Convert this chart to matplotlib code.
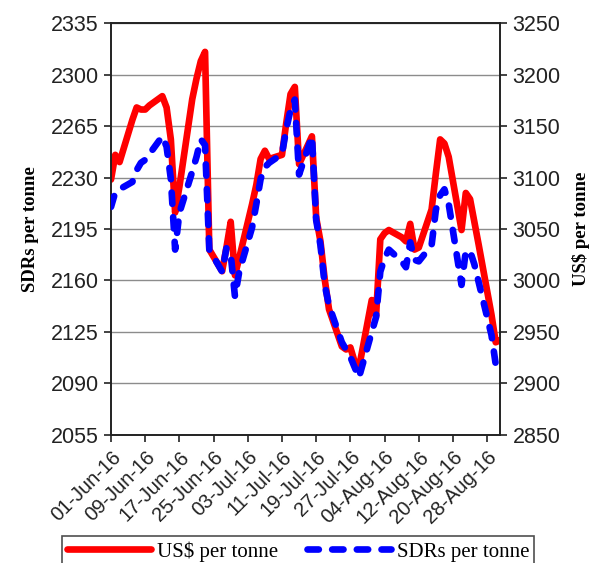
import numpy as np
import pandas as pd
import matplotlib
matplotlib.use("Agg")
import matplotlib.pyplot as plt
import matplotlib.dates as mdates

# trading days 01-Jun-16 .. 31-Aug-16
dates = pd.bdate_range("2016-06-01", "2016-08-31")

# US$ per tonne (right axis)
usd = [3098, 3122, 3115, 3156, 3168, 3166, 3166, 3170, 3179, 3168,
       3137, 3066, 3091, 3176, 3196, 3213, 3222, 3030, 3009, 3032,
       3057, 3005, 3022, 3074, 3093, 3118, 3126, 3118, 3122, 3153,
       3181, 3188, 3113, 3140, 3061, 3038, 3001, 2972, 2936, 2933,
       2935, 2921, 2915, 2981, 2965, 3040, 3046, 3049, 3042, 3038,
       3055, 3030, 3032, 3069, 3104, 3137, 3133, 3120, 3049, 3085,
       3079, 3057, 3035, 2967, 2940, 2942]

# SDRs per tonne (left axis)
sdr = [2210, 2220, 2222, 2227, 2235, 2240, 2242, 2246, 2258, 2251,
       2229, 2181, 2206, 2234, 2244, 2256, 2252, 2181, 2166, 2182,
       2178, 2149, 2166, 2196, 2212, 2229, 2237, 2240, 2246, 2263,
       2276, 2283, 2232, 2258, 2201, 2184, 2157, 2143, 2118, 2113,
       2108, 2101, 2094, 2125, 2135, 2166, 2175, 2181, 2173, 2169,
       2186, 2174, 2173, 2184, 2208, 2218, 2222, 2212, 2157, 2180,
       2180, 2171, 2159, 2123, 2103, 2108]

left_ticks = np.arange(2055, 2336, 35)
right_ticks = np.arange(2850, 3251, 50)

LW = 4.8
DASH = (1.7, 2.0)

fig = plt.figure(figsize=(6.15, 5.63), dpi=100)
ax = fig.add_axes([0.1805, 0.2274, 0.6325, 0.7317])
ax2 = ax.twinx()

ax.plot(dates, sdr, color="#0000FF", lw=LW, dashes=DASH,
        dash_capstyle="round", zorder=3)
ax2.plot(dates, usd, color="#FF0000", lw=LW, solid_capstyle="round",
         solid_joinstyle="round", zorder=2)
# blue on top, yellow background behind both
ax2.set_zorder(0)
ax.set_zorder(1)
ax.patch.set_visible(False)
ax2.patch.set_facecolor("#FFFFCC")

ax.set_ylim(2055, 2335)
ax.set_yticks(left_ticks)
ax2.set_ylim(2850, 3250)
ax2.set_yticks(right_ticks)
ax2.yaxis.grid(True, color="#8c8c8c", lw=1)
ax2.set_axisbelow(True)
ax.set_xlim(pd.Timestamp("2016-06-01"), pd.Timestamp("2016-08-31"))
xt = pd.date_range("2016-06-01", "2016-08-31", freq="8D")
ax.set_xticks(xt)
ax.xaxis.set_major_formatter(mdates.DateFormatter("%d-%b-%y"))

for a in (ax, ax2):
    a.tick_params(labelsize=15.5, length=5, width=1.2, colors="#222222", pad=4)
    for s in a.spines.values():
        s.set_color("#222222")
        s.set_linewidth(1.2)
    for lab in a.get_yticklabels():
        lab.set_family("Liberation Sans")
for lab in ax.get_xticklabels():
    lab.set_family("Liberation Sans")
    lab.set_rotation(45)
    lab.set_ha("right")
    lab.set_rotation_mode("anchor")
    lab.set_fontsize(14.5)

ax.set_ylabel("SDRs per tonne", family="Liberation Serif", fontweight="bold",
              fontsize=13.5, labelpad=8)
ax2.set_ylabel("US$ per tonne", family="Liberation Serif", fontweight="bold",
               fontsize=13.5, labelpad=8)

h1, = ax2.plot([], [], color="#FF0000", lw=LW, solid_capstyle="round")
h2, = ax.plot([], [], color="#0000FF", lw=LW, dashes=DASH,
              dash_capstyle="round")
leg = fig.legend([h1, h2], ["US$ per tonne", "SDRs per tonne"], ncol=2,
                 loc="upper center", bbox_to_anchor=(0.485, 1 - 536 / 563),
                 frameon=True, fancybox=False, edgecolor="#222222",
                 prop={"family": "Liberation Serif", "size": 15},
                 handlelength=4.0, handletextpad=0.3, columnspacing=1.4,
                 borderpad=0.25, borderaxespad=0)
leg.get_frame().set_linewidth(1.2)

fig.savefig("out.png", dpi=100)
